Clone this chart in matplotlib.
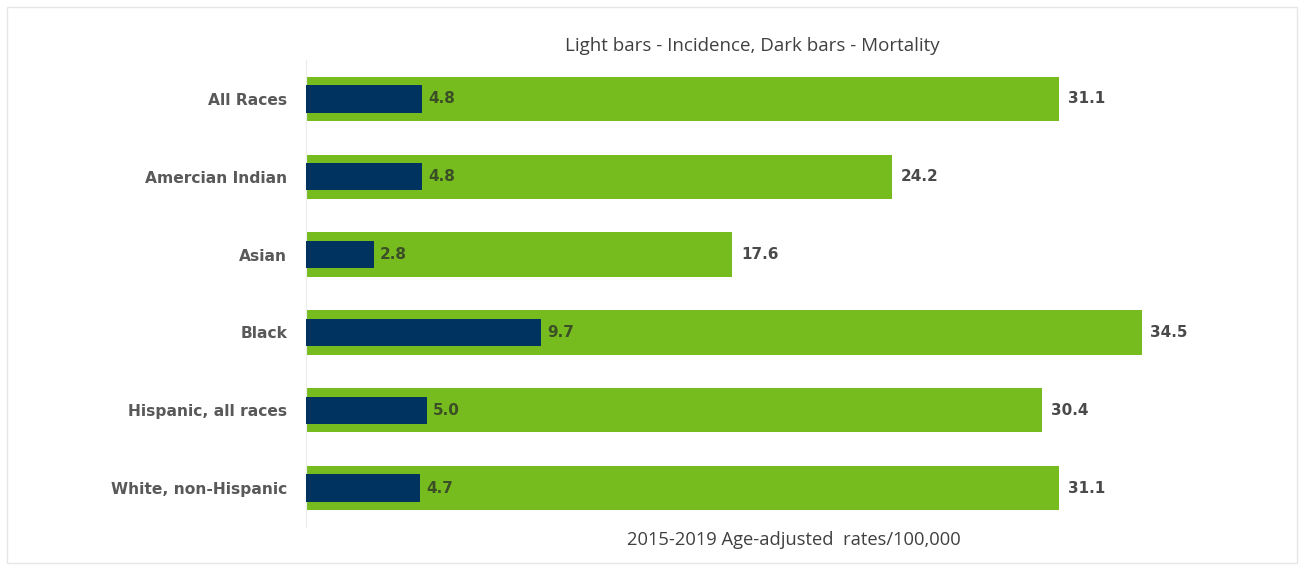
import matplotlib
matplotlib.use("Agg")
import matplotlib.pyplot as plt
from matplotlib.patches import Rectangle

groups = ["All Races", "Amercian Indian", "Asian", "Black",
          "Hispanic, all races", "White, non-Hispanic"]
incidence = [31.1, 24.2, 17.6, 34.5, 30.4, 31.1]
mortality = [4.8, 4.8, 2.8, 9.7, 5.0, 4.7]

GREEN, NAVY = "#77BC1F", "#00335F"
LABEL_C = "#595959"

fig = plt.figure(figsize=(13.04, 5.69), dpi=100)
W, H = 1304, 569
ax = fig.add_axes([306 / W, 1 - 527 / H, (1275 - 306) / W, (527 - 60) / H])

y = list(range(len(groups)))
ax.barh(y, incidence, height=0.57, color=GREEN, zorder=2)
ax.barh(y, mortality, height=0.35, color=NAVY, zorder=3)

for i, (inc, mort) in enumerate(zip(incidence, mortality)):
    ax.text(inc + 0.35, i, f"{inc:.1f}", va="center", ha="left",
            fontsize=11, fontweight="bold", color="#4a4a4a")
    ax.text(mort + 0.25, i, f"{mort:.1f}", va="center", ha="left",
            fontsize=11, fontweight="bold", color="#3b4f26", zorder=4)

ax.set_xlim(0, 40)
ax.set_ylim(len(groups) - 0.5, -0.5)
ax.set_yticks(y)
ax.set_yticklabels(groups, fontsize=11.2, fontweight="bold", color=LABEL_C)
ax.tick_params(axis="y", length=0, pad=13.5)
ax.set_xticks([])
for side in ("top", "right", "bottom"):
    ax.spines[side].set_visible(False)
ax.spines["left"].set_color("#ececec")

fig.text(752 / W, 1 - 46 / H, "Light bars - Incidence, Dark bars - Mortality",
         ha="center", va="center", fontsize=13.5, color="#404040",
         family="Open Sans")
fig.text(794 / W, 1 - 540 / H, "2015-2019 Age-adjusted  rates/100,000",
         ha="center", va="center", fontsize=13.2, color="#404040",
         family="Open Sans")

# faint frame round the whole chart
fig.patches.append(Rectangle((7 / W, 1 - 563 / H), (1297 - 7) / W,
                             (563 - 7) / H, transform=fig.transFigure,
                             fill=False, edgecolor="#e6e6e6", lw=1))

fig.savefig("out.png", dpi=100)
